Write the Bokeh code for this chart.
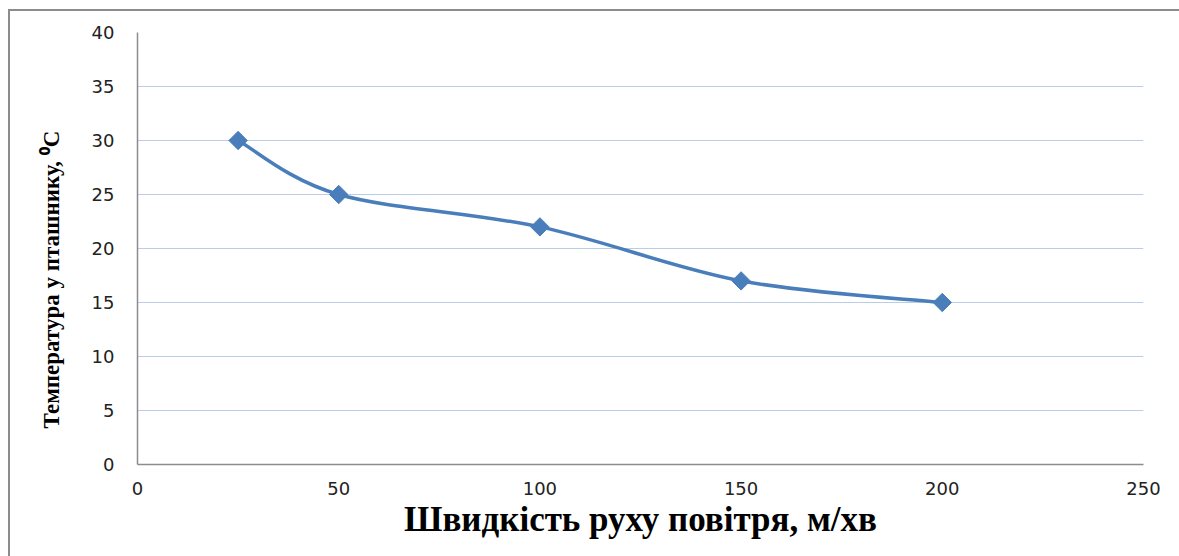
import math
from bokeh.plotting import figure
from bokeh.models import Range1d, FixedTicker, Title
from bokeh.embed import file_html
from bokeh.resources import INLINE

# Data
speed = [25, 50, 100, 150, 200]          # м/хв
temperature = [30, 25, 22, 17, 15]       # °C
x_ticks = [0, 50, 100, 150, 200, 250]
y_ticks = [0, 5, 10, 15, 20, 25, 30, 35, 40]

x_title = "Швидкість руху повітря, м/хв"
y_title = "Температура у пташнику, \u2070C"

LINE = "#4A7EBB"

p = figure(width=1171, height=547, output_backend="svg", toolbar_location=None,
           x_range=Range1d(0, 250), y_range=Range1d(0, 40),
           min_border_left=127, min_border_right=38, min_border_top=21, min_border_bottom=94)
p.styles = {"border-top": "2px solid #8c8c8c", "border-left": "2px solid #8c8c8c",
            "margin-left": "8px", "margin-top": "9px"}
p.outline_line_color = None
p.background_fill_color = "white"
p.border_fill_color = "white"

# grid
p.xgrid.visible = False
p.ygrid.ticker = FixedTicker(ticks=y_ticks)
p.ygrid.grid_line_color = "#B9CDE5"
p.ygrid.grid_line_width = 1

# axes
for ax in (p.xaxis[0], p.yaxis[0]):
    ax.axis_line_color = "#8c8c8c"
    ax.axis_line_width = 1.5
    ax.major_tick_line_color = None
    ax.minor_tick_line_color = None
    ax.major_label_text_font = "DejaVu Sans"
    ax.major_label_text_font_size = "18px"
    ax.major_label_text_color = "#222222"
    ax.axis_label_text_font = "Liberation Serif"
    ax.axis_label_text_font_style = "bold"
    ax.axis_label_text_color = "#000000"

p.xaxis[0].ticker = FixedTicker(ticks=x_ticks)
p.yaxis[0].ticker = FixedTicker(ticks=y_ticks)
p.xaxis[0].major_label_standoff = 11
p.yaxis[0].major_label_standoff = 17
p.xaxis[0].axis_label = x_title
p.xaxis[0].axis_label_text_font_size = "35px"
p.xaxis[0].axis_label_standoff = 2

# y-axis title (slightly below the frame centre, as in the reference)
p.add_layout(Title(text=y_title, align="left", offset=36, standoff=50,
                   text_font="Liberation Serif", text_font_style="bold",
                   text_font_size="23px", text_color="#000000"), "left")

# smoothed line (Catmull-Rom -> cubic Bezier, as in Excel's smoothed line)
n = len(speed)
x0s, y0s, x1s, y1s, cx0s, cy0s, cx1s, cy1s = [], [], [], [], [], [], [], []
for i in range(n - 1):
    xa, ya = speed[max(i - 1, 0)], temperature[max(i - 1, 0)]
    xb, yb = speed[i], temperature[i]
    xc, yc = speed[i + 1], temperature[i + 1]
    xd, yd = speed[min(i + 2, n - 1)], temperature[min(i + 2, n - 1)]
    x0s.append(xb); y0s.append(yb); x1s.append(xc); y1s.append(yc)
    cx0s.append(xb + (xc - xa) / 6.0); cy0s.append(yb + (yc - ya) / 6.0)
    cx1s.append(xc - (xd - xb) / 6.0); cy1s.append(yc - (yd - yb) / 6.0)

p.bezier(x0=x0s, y0=y0s, x1=x1s, y1=y1s, cx0=cx0s, cy0=cy0s, cx1=cx1s, cy1=cy1s,
         line_color=LINE, line_width=3.5)
p.scatter(speed, temperature, marker="square", size=13, angle=math.pi / 4,
          fill_color=LINE, line_color=LINE)

open("out.html", "w").write(file_html(p, INLINE))
